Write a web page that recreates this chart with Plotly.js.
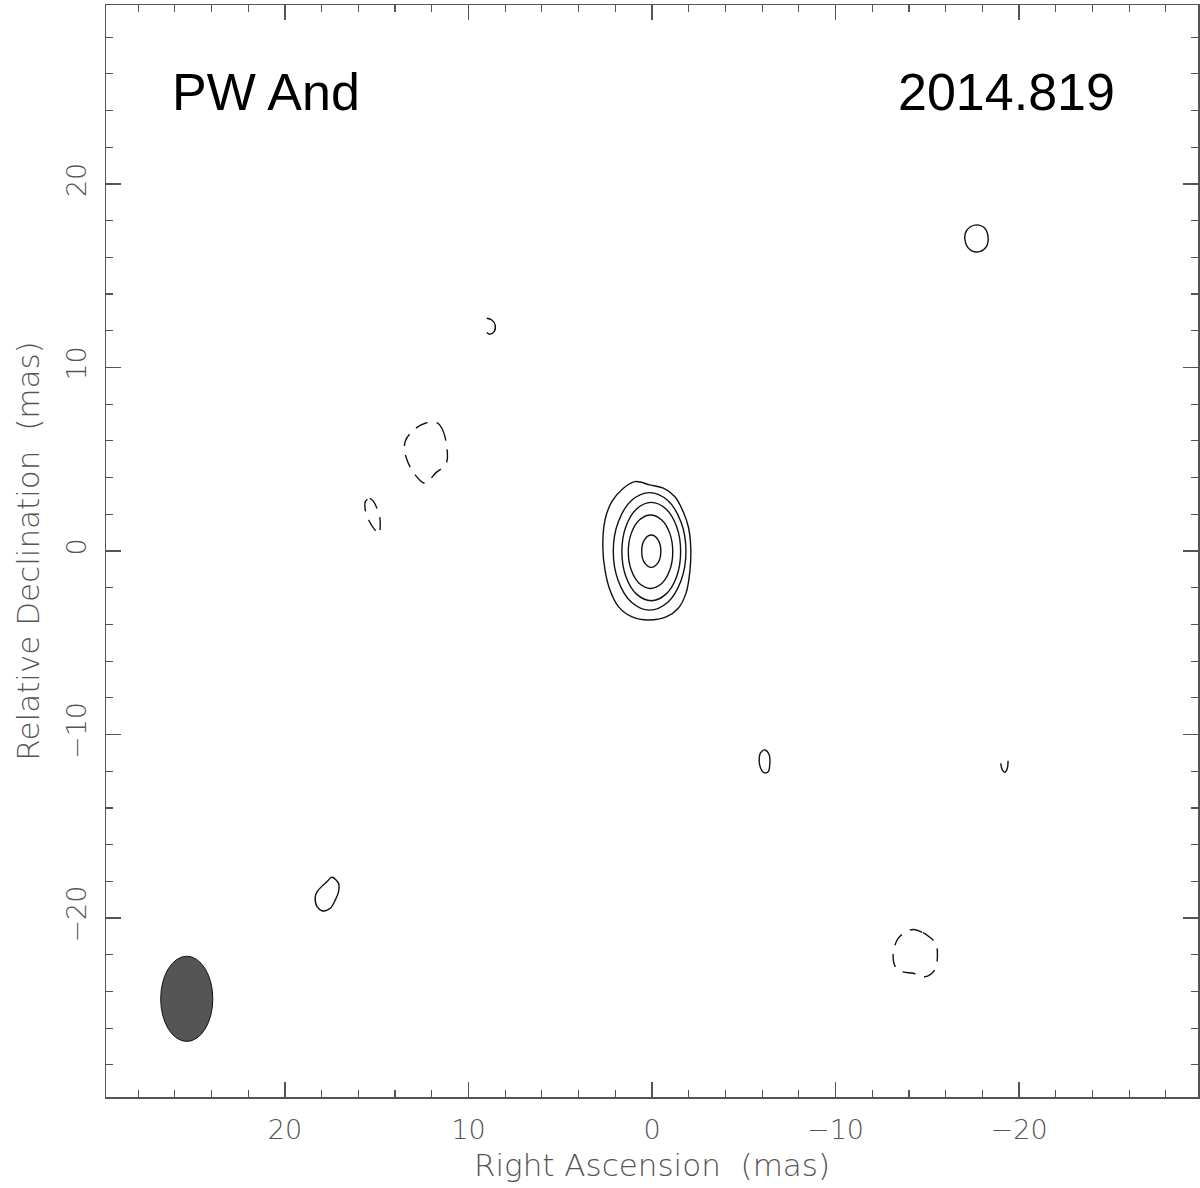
<!DOCTYPE html>
<html>
<head>
<meta charset="utf-8">
<script src="https://cdn.plot.ly/plotly-3.0.1.min.js"></script>
<style>
  html, body { margin: 0; padding: 0; background: #fff; }
  #map { width: 1200px; height: 1188px; }
</style>
</head>
<body>
<div id="map"></div>
<script>
// contour outlines, in mas (RA offset, Dec offset)
// positive contours around the core, outer to inner
const core1X = [0.93, 0.11, -0.62, -1.25, -1.70, -1.98, -2.11, -2.07, -1.85, -1.43, -0.80, 0.20, 1.11, 1.83, 2.29, 2.56, 2.68, 2.56, 2.19, 1.56];
const core1Y = [3.78, 3.60, 3.42, 2.96, 2.14, 1.32, 0.23, -1.04, -2.31, -3.12, -3.58, -3.76, -3.58, -3.03, -2.13, -1.04, 0.23, 1.69, 2.69, 3.42];
const core2X = [0.13, -0.86, -1.58, -1.85, -1.58, -0.86, 0.13, 1.12, 1.84, 2.11, 1.84, 1.12];
const core2Y = [3.18, 2.75, 1.58, -0.02, -1.62, -2.79, -3.22, -2.79, -1.62, -0.02, 1.58, 2.75];
const core3X = [0.04, -0.76, -1.35, -1.56, -1.35, -0.76, 0.04, 0.84, 1.43, 1.64, 1.43, 0.84];
const core3Y = [2.65, 2.29, 1.31, -0.03, -1.37, -2.35, -2.71, -2.35, -1.37, -0.03, 1.31, 2.29];
const core4X = [0.08, -0.53, -0.97, -1.13, -0.97, -0.53, 0.08, 0.69, 1.13, 1.29, 1.13, 0.69];
const core4Y = [1.96, 1.69, 0.96, -0.04, -1.04, -1.77, -2.04, -1.77, -1.04, -0.04, 0.96, 1.69];
const core5X = [0.04, -0.33, -0.48, -0.33, 0.04, 0.41, 0.56, 0.41];
const core5Y = [0.87, 0.61, -0.01, -0.63, -0.89, -0.63, -0.01, 0.61];

// small positive islands
const blobNX = [-17.68, -18.13, -18.31, -18.22, -17.86, -17.40, -17.09, -17.07, -17.31];
const blobNY = [17.77, 17.59, 17.13, 16.58, 16.31, 16.37, 16.77, 17.31, 17.64];
const blobSWX = [17.44, 17.08, 17.08, 17.26, 17.53, 17.80, 17.98, 18.25, 18.35, 18.25, 17.98, 17.71];
const blobSWY = [-17.78, -18.11, -18.57, -19.02, -19.47, -19.60, -19.60, -19.38, -18.84, -18.57, -18.26, -18.02];
const blobSX = [-6.15, -6.39, -6.42, -6.33, -6.10, -5.92, -5.84, -5.92];
const blobSY = [-10.84, -11.12, -11.57, -12.03, -12.08, -11.84, -11.39, -10.99];
const arcNX = [9.00, 8.73, 8.55, 8.60, 8.86, 9.00];
const arcNY = [12.68, 12.59, 12.32, 11.95, 11.81, 11.90];
const arcEX = [-19.00, -19.09, -19.22, -19.36, -19.40];
const arcEY = [-11.57, -11.93, -12.06, -11.84, -11.43];

// negative contours (dashed)
const negAX = [11.72, 11.45, 11.21, 11.21, 11.81, 12.36, 12.90, 13.41, 13.45, 12.99, 12.36];
const negAY = [6.99, 6.69, 5.87, 4.78, 4.23, 3.69, 4.14, 5.14, 5.96, 6.59, 6.96];
const negBX = [15.62, 15.39, 15.17, 14.84, 14.81, 14.86, 15.02, 15.44, 15.62];
const negBY = [2.69, 2.87, 2.69, 1.87, 1.32, 0.93, 1.05, 1.69, 2.23];
const negCX = [-14.23, -14.77, -15.10, -15.46, -15.55, -15.41, -14.86, -14.23, -13.68, -13.28, -13.14, -13.41, -13.77];
const negCY = [-20.62, -20.80, -21.02, -21.38, -22.11, -22.83, -23.20, -23.01, -22.93, -22.69, -21.92, -21.11, -20.80];

// restoring beam (centre and half axes, mas)
const beamX = 25.35, beamY = -24.4, beamHalfW = 1.42, beamHalfH = 2.32;

const xTicks = [20, 10, 0, -10, -20];
const yTicks = [-20, -10, 0, 10, 20];

const close = a => a.concat([a[0]]);
const label = v => (v < 0 ? "\u2212" + Math.abs(v) : String(v));

function contour(xs, ys, dashed, closed) {
  return {
    x: closed ? close(xs) : xs,
    y: closed ? close(ys) : ys,
    type: "scatter",
    mode: "lines",
    line: { color: "#111", width: 1.4, shape: "spline", smoothing: 1, dash: dashed ? "13px,9px" : "solid" },
    hoverinfo: "skip"
  };
}

const traces = [
  contour(core1X, core1Y, false, true),
  contour(core2X, core2Y, false, true),
  contour(core3X, core3Y, false, true),
  contour(core4X, core4Y, false, true),
  contour(core5X, core5Y, false, true),
  contour(blobNX, blobNY, false, true),
  contour(blobSWX, blobSWY, false, true),
  contour(blobSX, blobSY, false, true),
  contour(arcNX, arcNY, false, false),
  contour(arcEX, arcEY, false, false),
  contour(negAX, negAY, true, true),
  contour(negBX, negBY, true, true),
  contour(negCX, negCY, true, true)
];

const tickFont = { family: "DejaVu Sans", size: 27, color: "#555", weight: 200 };
const titleFont = { family: "DejaVu Sans", size: 31, color: "#555", weight: 200 };

const axisBase = {
  showgrid: false,
  zeroline: false,
  showline: true,
  linecolor: "#555",
  linewidth: 1.5,
  mirror: "allticks",
  ticks: "inside",
  ticklen: 15,
  tickwidth: 1.3,
  tickcolor: "#555",
  tickmode: "array",
  tickfont: tickFont,
  minor: { dtick: 2, ticks: "inside", ticklen: 7, tickwidth: 1.2, tickcolor: "#555" }
};

const layout = {
  width: 1200,
  height: 1188,
  margin: { l: 106, r: 2, t: 5, b: 91 },
  paper_bgcolor: "#fff",
  plot_bgcolor: "#fff",
  showlegend: false,
  hovermode: false,
  xaxis: Object.assign({}, axisBase, {
    range: [29.75, -29.75],
    tickvals: xTicks,
    ticktext: xTicks.map(label),
    ticklabelstandoff: 8,
    title: { text: "Right Ascension\u00a0\u00a0(mas)", font: titleFont, standoff: 10 }
  }),
  yaxis: Object.assign({}, axisBase, {
    range: [-29.75, 29.75],
    tickvals: yTicks,
    ticktext: yTicks.map(label),
    tickangle: -90,
    ticklabelstandoff: 8,
    title: { text: "Relative Declination\u00a0\u00a0(mas)", font: titleFont, standoff: 12 }
  }),
  shapes: [{
    type: "circle",
    xref: "x", yref: "y",
    x0: beamX - beamHalfW, x1: beamX + beamHalfW,
    y0: beamY - beamHalfH, y1: beamY + beamHalfH,
    fillcolor: "#555",
    line: { color: "#111", width: 1 }
  }],
  annotations: [
    { text: "PW And", xref: "paper", yref: "paper", x: 0.059, y: 0.92, xanchor: "left", yanchor: "middle",
      showarrow: false, font: { family: "Liberation Sans", size: 52, color: "#000" } },
    { text: "2014.819", xref: "paper", yref: "paper", x: 0.926, y: 0.92, xanchor: "right", yanchor: "middle",
      showarrow: false, font: { family: "Liberation Sans", size: 52, color: "#000" } }
  ]
};

Plotly.newPlot("map", traces, layout, { staticPlot: true });
</script>
</body>
</html>
